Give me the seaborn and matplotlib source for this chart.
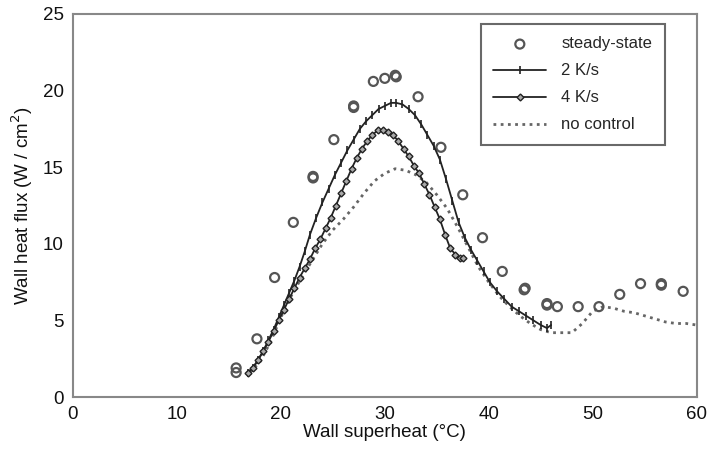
import matplotlib
matplotlib.use("Agg")
import matplotlib.pyplot as plt
import seaborn as sns
import pandas as pd

# steady-state data (open circles)
ss_x = [15.7, 15.7, 17.7, 19.4, 21.2, 23.1, 23.1, 25.1, 27.0, 27.0, 28.9, 30.0, 31.0, 31.1,
        33.2, 35.4, 37.5, 39.4, 41.3, 43.4, 43.5, 45.6, 45.6, 46.6, 48.6, 50.6, 52.6, 54.6,
        56.6, 56.6, 58.7]
ss_y = [1.9, 1.6, 3.8, 7.8, 11.4, 14.4, 14.3, 16.8, 18.9, 19.0, 20.6, 20.8, 21.0, 20.9,
        19.6, 16.3, 13.2, 10.4, 8.2, 7.0, 7.1, 6.1, 6.0, 5.9, 5.9, 5.9, 6.7, 7.4,
        7.4, 7.3, 6.9]

# 2 K/s
k2_x = [16.8, 17.3, 17.8, 18.3, 18.8, 19.3, 19.8, 20.3, 20.8, 21.3, 21.8, 22.3, 22.8, 23.4,
        24.0, 24.6, 25.2, 25.8, 26.4, 27.0, 27.6, 28.2, 28.8, 29.4, 30.0, 30.6, 31.1, 31.7,
        32.3, 32.9, 33.5, 34.1, 34.7, 35.3, 35.9, 36.5, 37.1, 37.7, 38.3, 38.9, 39.5, 40.1,
        40.8, 41.5, 42.2, 42.9, 43.6, 44.3, 45.0, 45.6, 46.0]
k2_y = [1.6, 1.9, 2.4, 3.0, 3.7, 4.4, 5.2, 6.0, 6.8, 7.6, 8.5, 9.5, 10.6, 11.7,
        12.7, 13.6, 14.5, 15.3, 16.1, 16.8, 17.5, 18.0, 18.4, 18.8, 19.0, 19.2, 19.2, 19.1,
        18.8, 18.4, 17.8, 17.1, 16.4, 15.5, 14.2, 12.8, 11.4, 10.4, 9.6, 8.9, 8.2, 7.5,
        6.9, 6.4, 5.9, 5.6, 5.3, 5.0, 4.7, 4.5, 4.7]

# 4 K/s
k4_x = [16.8, 17.3, 17.8, 18.3, 18.8, 19.3, 19.8, 20.3, 20.8, 21.3, 21.8, 22.3, 22.8, 23.3,
        23.8, 24.3, 24.8, 25.3, 25.8, 26.3, 26.8, 27.3, 27.8, 28.3, 28.8, 29.3, 29.8, 30.3,
        30.8, 31.3, 31.8, 32.3, 32.8, 33.3, 33.8, 34.3, 34.8, 35.3, 35.8, 36.3, 36.8, 37.2,
        37.5]
k4_y = [1.6, 1.9, 2.4, 3.0, 3.6, 4.3, 5.0, 5.7, 6.4, 7.1, 7.8, 8.4, 9.0, 9.7,
        10.3, 11.0, 11.7, 12.5, 13.3, 14.1, 14.9, 15.6, 16.2, 16.7, 17.1, 17.4, 17.4, 17.3,
        17.1, 16.7, 16.2, 15.7, 15.1, 14.6, 13.9, 13.2, 12.4, 11.6, 10.6, 9.7, 9.3, 9.1,
        9.1]

# no control
nc_x = [17.0, 18.0, 19.0, 20.0, 21.0, 22.0, 23.0, 24.0, 25.0, 26.0, 27.0, 28.0, 29.0, 30.0,
        31.0, 32.0, 33.0, 34.0, 35.0, 36.0, 37.0, 38.0, 39.0, 40.0, 41.0, 42.0, 43.0, 44.0,
        45.0, 46.0, 47.0, 48.0, 49.0, 50.0, 51.0, 52.0, 53.0, 54.0, 55.0, 56.0, 57.0, 58.0,
        59.0, 60.0]
nc_y = [1.6, 2.3, 3.6, 5.2, 6.6, 7.8, 8.9, 10.0, 10.9, 11.6, 12.4, 13.3, 14.1, 14.6,
        14.9, 14.8, 14.5, 14.0, 13.2, 12.3, 11.1, 9.8, 8.5, 7.5, 6.6, 5.9, 5.3, 4.8,
        4.4, 4.2, 4.2, 4.2, 4.8, 5.6, 5.9, 5.8, 5.6, 5.5, 5.3, 5.1, 4.9, 4.8,
        4.8, 4.7]

x_ticks = [0, 10, 20, 30, 40, 50, 60]
y_ticks = [0, 5, 10, 15, 20, 25]

sns.set_style("white")
plt.rcParams["font.family"] = ["Liberation Sans", "DejaVu Sans"]

fig = plt.figure(figsize=(7.08, 4.59), dpi=100)
ax = fig.add_axes([0.103, 0.135, 0.881, 0.8345])

df_ss = pd.DataFrame({"x": ss_x, "y": ss_y})
df_k2 = pd.DataFrame({"x": k2_x, "y": k2_y})
df_k4 = pd.DataFrame({"x": k4_x, "y": k4_y})
df_nc = pd.DataFrame({"x": nc_x, "y": nc_y})

sns.scatterplot(data=df_ss, x="x", y="y", ax=ax, marker="o", s=42,
                facecolor="none", edgecolor="#555555", linewidth=1.6,
                label="steady-state", zorder=3)
sns.lineplot(data=df_k2, x="x", y="y", ax=ax, color="#222222", linewidth=1.3,
             marker="|", markersize=6, markeredgewidth=1.2, markeredgecolor="#222222",
             sort=False, estimator=None, label="2 K/s", zorder=4)
sns.lineplot(data=df_k4, x="x", y="y", ax=ax, color="#222222", linewidth=1.3,
             marker="D", markersize=3.5, markerfacecolor="#aaaaaa",
             markeredgecolor="#222222", markeredgewidth=1.0,
             sort=False, estimator=None, label="4 K/s", zorder=4)
sns.lineplot(data=df_nc, x="x", y="y", ax=ax, color="#666666", linewidth=2.0,
             linestyle=(0, (1, 1.6)), sort=False, estimator=None,
             label="no control", zorder=2)

ax.set_xlim(0, 60)
ax.set_ylim(0, 25)
ax.set_xticks(x_ticks)
ax.set_yticks(y_ticks)
ax.tick_params(direction="inout", length=7, width=1.2, color="#777777",
               labelsize=13.5, labelcolor="#111111", pad=3)
for sp in ax.spines.values():
    sp.set_color("#888888")
    sp.set_linewidth(1.5)

ax.set_xlabel("Wall superheat (\u00b0C)", fontsize=13.5, labelpad=1, color="#111111")
ax.set_ylabel("Wall heat flux (W / cm$^2$)", fontsize=13.5, labelpad=6, color="#111111")

leg = ax.legend(loc="upper right", bbox_to_anchor=(0.949, 0.974), borderaxespad=0,
                fontsize=12, frameon=True, fancybox=False, edgecolor="#444444",
                handlelength=3.2, labelspacing=0.72, borderpad=0.75,
                handletextpad=0.9)
leg.get_frame().set_linewidth(1.5)

fig.savefig("out.png", dpi=100)
